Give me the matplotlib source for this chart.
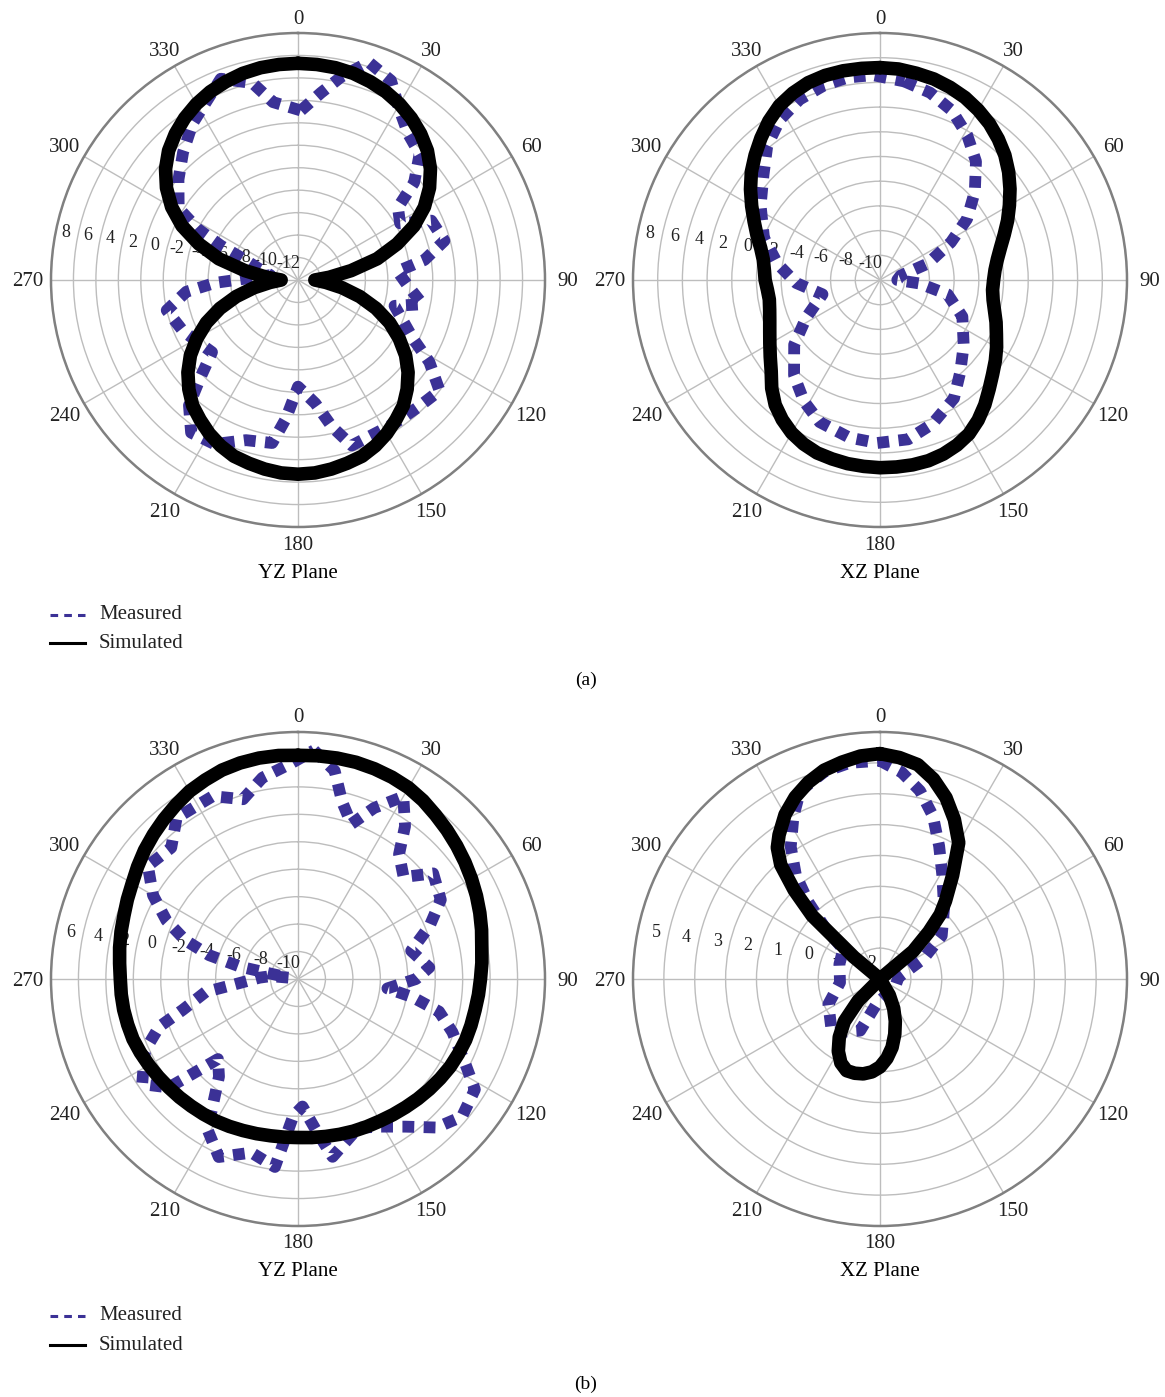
import numpy as np
import matplotlib.pyplot as plt
from matplotlib.lines import Line2D
from matplotlib.transforms import offset_copy

plt.rcParams['font.family'] = ['Liberation Serif', 'DejaVu Serif']

MEAS_COLOR = '#3b3196'
SIM_COLOR = '#000000'
GRID_COLOR = '#bdbdbd'

theta_ticks = list(range(0, 360, 30))
theta_labels = [str(t) for t in theta_ticks]
sim_deg = list(range(0, 360, 5))

# (a) YZ plane, dB
a_yz_sim = [7.3, 7.27, 7.2, 7.05, 6.8, 6.5, 6.1, 5.6, 5.0, 4.3, 3.4, 2.3,
            1.0, -0.6, -2.6, -4.7, -7.2, -9.2, -10.5, -9.5, -8.0, -6.3, -4.6, -3.0,
            -1.6, -0.3, 0.8, 1.75, 2.6, 3.2, 3.8, 4.3, 4.7, 4.9, 5.1, 5.25,
            5.3, 5.25, 5.1, 4.9, 4.7, 4.3, 3.8, 3.2, 2.6, 1.75, 0.8, -0.3,
            -1.6, -3.0, -4.6, -6.3, -8.0, -9.5, -10.5, -9.2, -7.2, -4.7, -2.6, -0.6,
            1.0, 2.3, 3.4, 4.3, 5.0, 5.6, 6.1, 6.5, 6.8, 7.05, 7.2, 7.27]
a_yz_meas_deg = [1, 7, 12, 18, 25, 31, 37, 44, 50, 54, 61, 66, 75, 81, 85, 93,
                 101, 105, 117, 122, 128, 136, 146, 162, 167, 172, 180, 185,
                 189, 198, 207, 215, 221, 225, 230, 246, 257, 264, 268, 280,
                 286, 291, 294, 297, 301, 310, 318, 326, 333, 339, 347, 352]
a_yz_meas = [3.1, 4.8, 6.5, 8.4, 7.6, 5.6, 4.3, 3.6, 1.5, -1.0, -1.6, 1.0, 1.5,
             -0.6, -3.1, -2.2, -0.7, -3.1, -0.5, 1.8, 4.0, 3.6, 3.4, 3.5, 1.4,
             -0.9, -2.5, 0.4, 2.7, 3.0, 4.4, 4.6, 2.8, 0.3, -2.0, -0.8, 0.0,
             -2.0, -4.6, -9.5, -8.4, -6.9, -4.5, -2.0, 0.4, 1.9, 3.3, 4.8, 5.9,
             7.2, 6.0, 4.0]

# (a) XZ plane
a_xz_sim = [7.2, 7.15, 7.0, 6.85, 6.6, 6.3, 5.9, 5.45, 4.9, 4.3, 3.6, 2.85,
            2.1, 1.4, 0.7, 0.1, -0.35, -0.65, -0.8, -0.85, -0.7, -0.4, 0.0, 0.4,
            0.9, 1.4, 1.9, 2.5, 3.2, 3.85, 4.4, 4.75, 5.0, 5.15, 5.2, 5.2,
            5.2, 5.15, 5.1, 5.0, 4.9, 4.65, 4.3, 3.8, 3.2, 2.4, 1.5, 0.85,
            0.3, -0.15, -0.5, -0.75, -0.9, -0.85, -0.7, -0.6, -0.4, 0.0, 0.6, 1.25,
            2.0, 2.8, 3.6, 4.3, 5.0, 5.7, 6.3, 6.7, 7.0, 7.15, 7.2, 7.2]
a_xz_meas_deg = [7, 15, 23, 31, 39, 47, 55, 62, 71, 78, 90, 95, 102, 114, 128,
                 139, 148, 160, 170, 181, 191, 203, 212, 222, 233, 243, 256,
                 268, 279, 290, 302, 312, 320, 328, 336, 344, 351, 358]
a_xz_meas = [6.2, 5.7, 4.9, 3.7, 2.35, 0.5, -1.4, -3.5, -5.9, -8.3, -8.6, -6.8,
             -4.4, -2.7, -1.4, -0.1, 1.3, 2.4, 3.1, 3.2, 3.0, 2.5, 1.6, 0.4,
             -1.3, -3.3, -5.2, -3.2, -1.6, 0.0, 1.4, 2.7, 4.2, 5.3, 6.0, 6.4,
             6.6, 6.6]

# (b) YZ plane
b_yz_sim = [6.3, 6.33, 6.35, 6.35, 6.3, 6.22, 6.1, 5.88, 5.6, 5.35, 5.1, 4.85,
            4.6, 4.35, 4.1, 3.85, 3.6, 3.45, 3.3, 3.2, 3.1, 3.05, 3.0, 2.9,
            2.8, 2.65, 2.5, 2.35, 2.2, 2.07, 1.95, 1.87, 1.8, 1.72, 1.65, 1.6,
            1.55, 1.57, 1.6, 1.67, 1.75, 1.85, 1.95, 2.02, 2.1, 2.2, 2.3, 2.42,
            2.55, 2.68, 2.8, 2.85, 2.9, 2.93, 2.95, 3.05, 3.2, 3.35, 3.5, 3.72,
            3.95, 4.27, 4.6, 4.9, 5.2, 5.5, 5.8, 6.0, 6.2, 6.3, 6.35, 6.35]
b_yz_meas_deg = [4, 10, 14, 19, 24, 30, 35, 39, 46, 52, 61, 68, 76, 85, 90, 96,
                 99, 103, 109, 117, 122, 130, 137, 144, 151, 158, 169, 173,
                 178, 182, 187, 195, 204, 211, 219, 225, 228, 230, 236, 245,
                 251, 255, 262, 265, 272, 276, 278, 282, 285, 289, 294, 300,
                 307, 316, 323, 335, 343, 350, 358]
b_yz_meas = [6.7, 5.4, 3.3, 1.95, 3.65, 5.35, 3.6, 1.7, 0.7, 2.5, 1.9, 0.35,
             -1.5, -0.4, -1.4, -3.45, -1.55, 0.55, 1.9, 3.7, 5.2, 5.6, 4.8,
             3.3, 2.3, 1.7, 3.2, 1.2, -0.7, 0.0, 3.8, 3.1, 4.2, 2.8, -0.85,
             -1.75, 0.3, 2.3, 3.7, 2.3, 0.7, -1.3, -3.2, -5.3, -7.2, -8.0,
             -9.3, -5.7, -3.3, -1.3, 0.5, 2.2, 3.7, 3.3, 4.7, 4.7, 3.7, 4.9,
             5.7]

# (b) XZ plane, simulated sits on the centre between the two lobes
b_xz_sim_deg = [0, 5, 10, 15, 20, 25, 30, 35, 40, 43, 46, 50, 55, 90, 145,
                150, 155, 160, 165, 170, 175, 180, 185, 190, 195, 200, 205,
                210, 215, 220, 225, 230, 270, 305, 310, 313, 316, 319, 322,
                325, 330, 335, 340, 345, 350, 355]
b_xz_sim = [5.3, 5.2, 5.05, 4.7, 4.25, 3.7, 3.1, 2.1, 1.3, 0.86, 0.2, -0.6,
            -2.0, -2.0, -2.0, -1.4, -0.95, -0.55, -0.15, 0.25, 0.58, 0.85,
            1.02, 1.12, 1.16, 1.16, 1.0, 0.7, 0.3, -0.2, -1.0, -2.0, -2.0,
            -2.0, -0.9, 1.0, 2.0, 2.9, 3.4, 3.7, 4.15, 4.5, 4.78, 5.0, 5.13,
            5.25]
b_xz_meas_deg = [0, 6, 12, 18, 24, 31, 42, 55, 65, 85, 117, 188, 201, 222, 244,
                 265, 290, 309, 313, 317, 321, 326, 332, 337, 345, 352]
b_xz_meas = [5.07, 4.73, 4.23, 3.55, 2.71, 1.92, 1.1, 0.44, -0.45, -1.4, -1.45,
             -1.18, -0.21, 0.33, -0.14, -0.7, -0.6, -0.47, 0.44, 1.4, 2.33,
             3.17, 3.97, 4.62, 4.95, 5.07]

W, H = 1165, 1397
fig = plt.figure(figsize=(W / 100, H / 100), dpi=100)


def closed(deg, val):
    t = np.deg2rad(np.r_[deg, deg[0] + 360])
    return t, np.r_[val, val[0]]


def draw_panel(cx, cy, rmin, rmax, step, rlabels, sdeg, sim, mdeg, meas, title):
    rad = 247
    rect = [(cx - rad) / W, 1 - (cy + rad) / H, 2 * rad / W, 2 * rad / H]
    ax = fig.add_axes(rect, projection='polar')
    ax.set_theta_zero_location('N')
    ax.set_theta_direction(-1)
    ax.set_ylim(rmin, rmax)
    ax.set_yticks(np.arange(rmin, rmax + step, step))
    ax.set_yticklabels([])
    ax.set_xticks(np.deg2rad(theta_ticks))
    ax.set_xticklabels([])
    ax.grid(True, color=GRID_COLOR, lw=1.0)
    ax.spines['polar'].set_color('#808080')
    ax.spines['polar'].set_linewidth(1.8)

    t, r = closed(mdeg, meas)
    ax.plot(t, r, color=MEAS_COLOR, lw=8.5, ls=(0, (1.0, 0.8)),
            dash_capstyle='butt', zorder=3)
    t, r = closed(sdeg, sim)
    ax.plot(t, r, color=SIM_COLOR, lw=9.8, solid_joinstyle='round',
            solid_capstyle='round', zorder=4)

    # angle labels just outside the rim
    ttr = offset_copy(ax.transData, fig=fig, x=0, y=-2, units='dots')
    for deg, lab in zip(theta_ticks, theta_labels):
        d = 263 + 7 * abs(np.sin(np.deg2rad(deg)))
        ax.text(np.deg2rad(deg), rmin + (rmax - rmin) * d / rad, lab,
                transform=ttr, ha='center', va='center', fontsize=15,
                color='#222222', clip_on=False)

    # value labels along a line just above the 270 spoke
    tr = offset_copy(ax.transData, fig=fig, x=-10, y=16, units='dots')
    for v in rlabels:
        ax.text(np.deg2rad(278), v, str(v), transform=tr, ha='center',
                va='center', fontsize=13, color='#222222', zorder=2)

    ty = 573 if cy < 600 else 1272
    fig.text(cx / W, 1 - ty / H, title, ha='center', va='center', fontsize=15)
    return ax


draw_panel(298, 280, -12, 10, 2, list(range(8, -13, -2)), sim_deg, a_yz_sim,
           a_yz_meas_deg, a_yz_meas, 'YZ Plane')
draw_panel(880, 280, -10, 10, 2, list(range(8, -11, -2)), sim_deg, a_xz_sim,
           a_xz_meas_deg, a_xz_meas, 'XZ Plane')
draw_panel(298, 979, -10, 8, 2, list(range(6, -11, -2)), sim_deg, b_yz_sim,
           b_yz_meas_deg, b_yz_meas, 'YZ Plane')
draw_panel(880, 979, -2, 6, 1, list(range(5, -3, -1)), b_xz_sim_deg, b_xz_sim,
           b_xz_meas_deg, b_xz_meas, 'XZ Plane')

# legends, drawn by hand under each row
for y_meas, y_sim in [(615, 643), (1316, 1345)]:
    fig.add_artist(Line2D([50 / W, 85 / W], [1 - y_meas / H] * 2,
                          transform=fig.transFigure, color=MEAS_COLOR, lw=2.2,
                          ls=(0, (2.5, 2.0))))
    fig.add_artist(Line2D([50 / W, 85 / W], [1 - y_sim / H] * 2,
                          transform=fig.transFigure, color=SIM_COLOR, lw=2.2))
    fig.text(99 / W, 1 - y_meas / H, 'Measured', ha='left', va='center',
             fontsize=15, color='#222222')
    fig.text(99 / W, 1 - y_sim / H, 'Simulated', ha='left', va='center',
             fontsize=15, color='#222222')

fig.text(586 / W, 1 - 680 / H, '(a)', ha='center', va='center', fontsize=14)
fig.text(586 / W, 1 - 1384 / H, '(b)', ha='center', va='center', fontsize=14)

fig.savefig('out.png', dpi=100)
